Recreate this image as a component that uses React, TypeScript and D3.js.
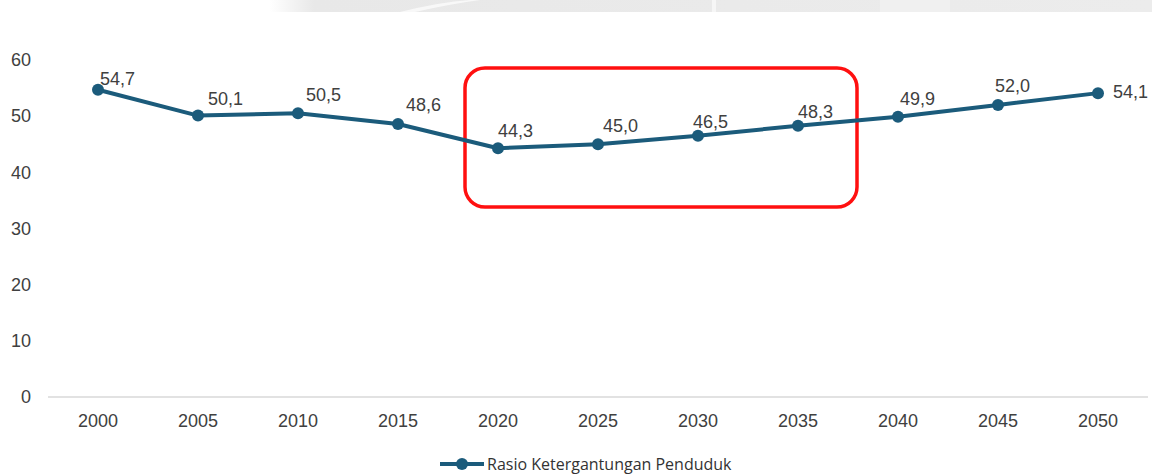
import React from "react";
import * as d3 from "d3";

const years = ["2000", "2005", "2010", "2015", "2020", "2025", "2030", "2035", "2040", "2045", "2050"];
const ratio = [54.7, 50.1, 50.5, 48.6, 44.3, 45.0, 46.5, 48.3, 49.9, 52.0, 54.1];
const yTicks = [0, 10, 20, 30, 40, 50, 60];
const seriesName = "Rasio Ketergantungan Penduduk";
// label offsets (dx, dy) relative to each point
const labelDx = [2, 10, 8, 8, 0, 5, -5, 0, 2, -3, 15];
const labelDy = [-5, -11, -12, -13, -11, -12, -8, -8, -12, -13, 5];

const W = 1152;
const H = 474;
const LINE = "#1b5b7b";
const TEXT = "#404040";
const FONT = "'Liberation Sans', Arial, sans-serif";

export default function App() {
  const x = d3.scaleBand<string>().domain(years).range([48, 1148]);
  const y = d3.scaleLinear().domain([0, 60]).range([397, 60]);
  const cx = (d: string) => (x(d) as number) + x.bandwidth() / 2;
  const pts = years.map((yr, i) => [cx(yr), y(ratio[i])] as [number, number]);
  const line = d3.line()(pts) as string;
  const fmt = (v: number) => d3.format(".1f")(v).replace(".", ",");

  return (
    <svg width={W} height={H} style={{ position: "absolute", left: 0, top: 0, background: "#fff" }}>
      <defs>
        <linearGradient id="wm" x1="0" x2="1" y1="0" y2="0">
          <stop offset="0" stopColor="#e8e8e8" stopOpacity="0" />
          <stop offset="0.05" stopColor="#e8e8e8" stopOpacity="1" />
          <stop offset="1" stopColor="#ececec" stopOpacity="1" />
        </linearGradient>
      </defs>
      {/* faint watermark strip at top */}
      <rect x={270} y={0} width={882} height={12} fill="url(#wm)" />
      <path d="M400,12 Q440,2 470,0 L480,0 Q450,4 415,12 Z" fill="#f8f8f8" />
      <rect x={712} y={0} width={4} height={12} fill="#f6f6f6" />
      <rect x={880} y={0} width={70} height={12} fill="#f2f2f2" opacity={0.7} />

      {/* baseline */}
      <line x1={48} x2={1148} y1={y(0)} y2={y(0)} stroke="#d9d9d9" strokeWidth={1.5} />

      {/* y ticks */}
      {yTicks.map((t) => (
        <text key={t} x={31} y={y(t)} dy="0.35em" textAnchor="end" fontFamily={FONT} fontSize={18} fill={TEXT}>
          {t}
        </text>
      ))}

      {/* x ticks */}
      {years.map((yr) => (
        <text key={yr} x={cx(yr)} y={421} dy="0.35em" textAnchor="middle" fontFamily={FONT} fontSize={18} fill={TEXT}>
          {yr}
        </text>
      ))}

      {/* highlight box */}
      <rect x={465} y={68} width={392} height={139} rx={20} ry={20} fill="none" stroke="#ff1010" strokeWidth={3.5} />

      {/* line */}
      <path d={line} fill="none" stroke={LINE} strokeWidth={4} strokeLinejoin="round" />
      {pts.map((p, i) => (
        <circle key={i} cx={p[0]} cy={p[1]} r={6} fill={LINE} />
      ))}

      {/* data labels */}
      {pts.map((p, i) => (
        <text key={i} x={p[0] + labelDx[i]} y={p[1] + labelDy[i]} textAnchor="start" fontFamily={FONT} fontSize={18} fill={TEXT}>
          {fmt(ratio[i])}
        </text>
      ))}

      {/* legend */}
      <line x1={440} x2={484} y1={464} y2={464} stroke={LINE} strokeWidth={4} />
      <circle cx={462} cy={464} r={6} fill={LINE} />
      <text x={487} y={464} dy="0.35em" fontFamily="'Open Sans', sans-serif" fontSize={16} fill="#333">
        {seriesName}
      </text>
    </svg>
  );
}
